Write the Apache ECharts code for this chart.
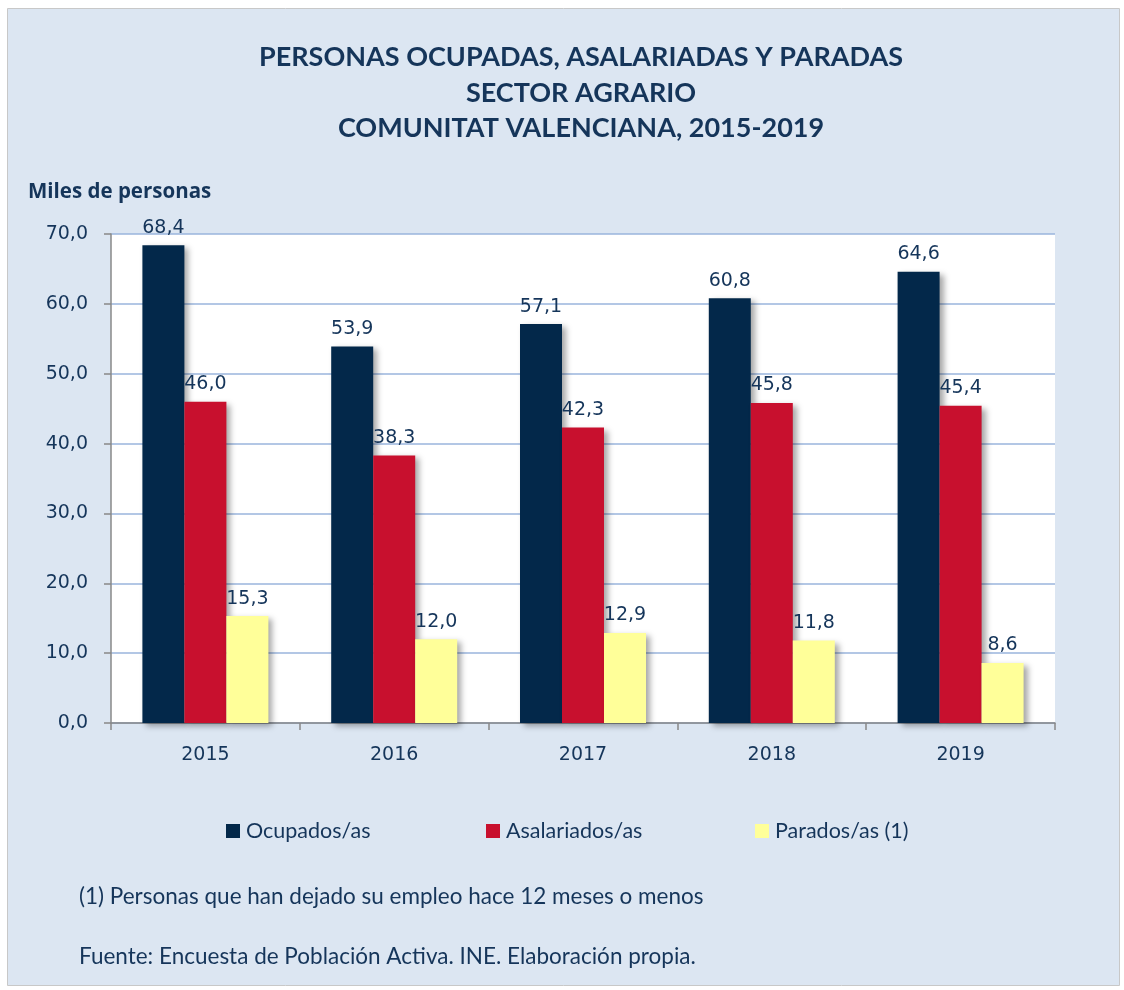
<!DOCTYPE html>
<html><head><meta charset="utf-8">
<script src="https://cdn.jsdelivr.net/npm/echarts@6/dist/echarts.min.js"></script>
<style>html,body{margin:0;padding:0;background:#fff}#c{width:1124px;height:990px}</style>
</head><body><div id="c"></div>
<script>
const categories = ['2015','2016','2017','2018','2019'];
const ocupados = [68.4, 53.9, 57.1, 60.8, 64.6];
const asalariados = [46.0, 38.3, 42.3, 45.8, 45.4];
const parados = [15.3, 12.0, 12.9, 11.8, 8.6];
const seriesNames = ['Ocupados/as','Asalariados/as','Parados/as (1)'];
const yTicks = [0,10,20,30,40,50,60,70];

const textColor = '#15355a';
const fmt = v => v.toFixed(1).replace('.', ',');
const colors = ['#03284a','#c8102e','#ffff99'];
const shadow = {shadowBlur:6, shadowOffsetX:4, shadowOffsetY:3, shadowColor:'rgba(0,0,0,0.35)'};

function bar(name, data, color){
  return {
    name, type:'bar', data, barWidth:42, barGap:'0%', barCategoryGap:'33%',
    itemStyle:Object.assign({color}, shadow),
    label:{show:true, position:'top', distance:8, color:textColor,
      fontFamily:'DejaVu Sans', fontSize:19, formatter:p=>fmt(p.value)}
  };
}
function leg(name, left){
  return {data:[name], left, top:815, itemWidth:14, itemHeight:14, icon:'rect', itemGap:6,
    textStyle:{fontFamily:'Lato', fontSize:21.5, color:textColor, padding:[0,0,0,1]}, selectedMode:false};
}

const chart = echarts.init(document.getElementById('c'));
chart.setOption({
  backgroundColor:'#ffffff',
  animation:false,
  graphic:[
    {type:'rect', shape:{x:7.5,y:8.5,width:1112,height:977}, style:{fill:'#dce6f2', stroke:'#c8c8c8', lineWidth:1}, z:-10},
    {type:'text', left:79, top:885, style:{text:'(1) Personas que han dejado su empleo hace 12 meses o menos', fontFamily:'Lato', fontSize:22.5, fill:textColor}},
    {type:'text', left:79, top:945, style:{text:'Fuente: Encuesta de Población Activa. INE. Elaboración propia.', fontFamily:'Lato', fontSize:22.5, fill:textColor}}
  ],
  title:[
    {text:'PERSONAS OCUPADAS, ASALARIADAS Y PARADAS\nSECTOR AGRARIO\nCOMUNITAT VALENCIANA, 2015-2019', left:576, textAlign:'center', top:35,
     textStyle:{fontFamily:'Lato', fontWeight:'bold', fontSize:27, lineHeight:35.5, color:textColor}},
    {text:'Miles de personas', left:23, top:177, textStyle:{fontFamily:'Open Sans', fontWeight:'bold', fontSize:20.5, color:textColor}}
  ],
  legend:[leg(seriesNames[0],221), leg(seriesNames[1],481), leg(seriesNames[2],750)],
  grid:{left:111, right:69, top:234, bottom:267, show:true, backgroundColor:'#ffffff', borderWidth:0},
  xAxis:{type:'category', data:categories,
    axisLine:{lineStyle:{color:'#888888', width:1.5}},
    axisTick:{show:true, length:7, lineStyle:{color:'#888888', width:1.5}},
    axisLabel:{color:textColor, fontFamily:'DejaVu Sans', fontSize:19, margin:23}},
  yAxis:{type:'value', min:0, max:70, interval:10,
    axisLine:{show:true, lineStyle:{color:'#888888', width:1.5}},
    axisTick:{show:true, length:7, lineStyle:{color:'#888888', width:1.5}},
    splitLine:{lineStyle:{color:'#9ab5dc', width:1.5}},
    axisLabel:{color:textColor, fontFamily:'DejaVu Sans', fontSize:19, margin:23, formatter:v=>fmt(v)}},
  series:[bar(seriesNames[0],ocupados,colors[0]), bar(seriesNames[1],asalariados,colors[1]), bar(seriesNames[2],parados,colors[2])]
});
</script></body></html>
